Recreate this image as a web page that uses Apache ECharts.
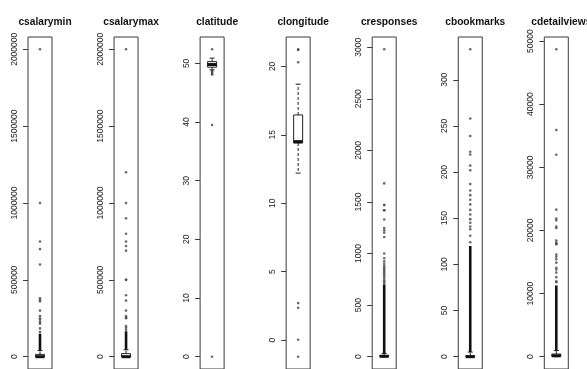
<!DOCTYPE html>
<html>
<head>
<meta charset="utf-8">
<script src="https://cdn.jsdelivr.net/npm/echarts@6/dist/echarts.min.js"></script>
<style>
  html, body { margin: 0; padding: 0; background: #fff; }
  #chart { width: 587px; height: 369px; }
</style>
</head>
<body>
<div id="chart"></div>
<script>
// Variables shown, one boxplot panel each
const variables = ['csalarymin', 'csalarymax', 'clatitude', 'clongitude', 'cresponses', 'cbookmarks', 'cdetailviews'];

// Tick values on each panel's y axis
const tickValues = [
  [0, 500000, 1000000, 1500000, 2000000],
  [0, 500000, 1000000, 1500000, 2000000],
  [0, 10, 20, 30, 40, 50],
  [0, 5, 10, 15, 20],
  [0, 500, 1000, 1500, 2000, 2500, 3000],
  [0, 50, 100, 150, 200, 250, 300],
  [0, 10000, 20000, 30000, 40000, 50000]
];

// Five-number summaries: [lower whisker, Q1, median, Q3, upper whisker]
const boxStats = [
  [0, 0, 0, 15000, 40000],
  [0, 0, 0, 20000, 45000],
  [48.9, 49.35, 49.8, 50.3, 50.9],
  [12.2, 14.4, 14.5, 16.45, 18.7],
  [0, 1, 4, 12, 32],
  [0, 0, 0, 1, 5],
  [0, 60, 150, 420, 980]
];

// Ranges where outliers pile up into a solid column
const denseOutlierSpans = [
  [40000, 150000],
  [45000, 165000],
  null,
  null,
  [32, 700],
  [5, 120],
  [980, 11300]
];

// Individual outliers per variable
const outCsalarymin = [2000000, 1000000, 750000, 700000, 600000, 380000, 370000, 360000, 300000, 265000, 250000, 240000, 226000, 215000, 184000, 160000];
const outCsalarymax = [2000000, 1200000, 1000000, 900000, 800000, 750000, 720000, 690000, 500000, 500000, 400000, 365000, 300000, 265000, 255000, 250000, 200000, 188000, 175000];
const outClatitude = [52.4, 39.5, 0, 48.8, 48.6, 48.4, 48.2, 48.1];
const outClongitude = [21.25, 21.2, 20.3, 2.7, 2.35, 0.02, -1.22];
const outCresponses = [2980, 1680, 1470, 1470, 1420, 1420, 1330, 1248, 1226, 1203, 1160, 1000, 955, 924, 898, 876, 860, 845, 830, 815, 800, 780, 760, 740, 725, 710];
const outCbookmarks = [333, 258, 239, 222, 219, 207, 202, 187, 180, 175, 170, 165, 159, 154, 149, 145, 141, 138, 131, 124];
const outCdetailviews = [48700, 35900, 32000, 23300, 21900, 21600, 20600, 20400, 18400, 18100, 17900, 17800, 16200, 15850, 15450, 14900, 14100, 13800, 13350, 12600, 11950, 11800];

const outlierSets = [outCsalarymin, outCsalarymax, outClatitude, outClongitude, outCresponses, outCbookmarks, outCdetailviews];

// Panel layout
const panelLeft0 = 28;
const panelStep = 86.05;
const panelWidth = 24;
const gridTop = 37;
const gridHeight = 338;
const boxHalf = 4.5;
const capHalf = 2.5;
const ink = '#222';
const fontFamily = 'Liberation Sans, Arial, sans-serif';

const grids = [], xAxes = [], yAxes = [], titles = [], series = [];

variables.forEach((name, i) => {
  const left = panelLeft0 + panelStep * i;
  const stats = boxStats[i];
  const outs = outlierSets[i];
  const all = stats.concat(outs);
  const lo = Math.min(...all), hi = Math.max(...all);
  const pad = 0.04 * (hi - lo);

  grids.push({
    left: left, top: gridTop, width: panelWidth, height: gridHeight,
    show: true, borderColor: '#3a3a3a', borderWidth: 1, backgroundColor: 'transparent'
  });
  xAxes.push({ gridIndex: i, type: 'value', min: 0, max: 1, show: false });
  yAxes.push({
    gridIndex: i, type: 'value', min: lo - pad, max: hi + pad,
    axisLine: { show: false },
    splitLine: { show: false },
    axisTick: { show: true, length: 5, customValues: tickValues[i], lineStyle: { color: '#3a3a3a', width: 1 } },
    axisLabel: {
      customValues: tickValues[i], rotate: 90, margin: 9,
      fontSize: 8.5, color: ink, fontFamily: fontFamily,
      formatter: v => String(v)
    }
  });
  titles.push({
    text: name, left: left + panelWidth / 2, top: 12, textAlign: 'center',
    textStyle: { fontSize: 10.2, fontWeight: 'bold', color: '#111', fontFamily: fontFamily }
  });

  // solid column of overlapping outliers
  const span = denseOutlierSpans[i];
  if (span) {
    series.push({
      type: 'line', xAxisIndex: i, yAxisIndex: i, silent: true,
      showSymbol: false, symbol: 'none',
      lineStyle: { color: '#111', width: 2.6 },
      data: [[0.5, span[0]], [0.5, span[1]]]
    });
  }

  // individual outliers
  series.push({
    type: 'scatter', xAxisIndex: i, yAxisIndex: i, silent: true,
    symbol: 'circle', symbolSize: 2.6,
    itemStyle: { color: '#444' },
    data: outs.map(v => [0.5, v])
  });

  // box, whiskers, caps and median
  series.push({
    type: 'custom', xAxisIndex: i, yAxisIndex: i, silent: true,
    data: [[0.5].concat(stats)],
    renderItem: (params, api) => {
      const x = api.value(0);
      const p = k => api.coord([x, api.value(k)]);
      const lw = p(1), q1 = p(2), md = p(3), q3 = p(4), hw = p(5);
      const cx = lw[0];
      const line = (x1, y1, x2, y2, style) => ({ type: 'line', shape: { x1, y1, x2, y2 }, style });
      const dashed = { stroke: ink, lineWidth: 1, lineDash: [3, 2] };
      const solid = { stroke: ink, lineWidth: 1 };
      return {
        type: 'group',
        children: [
          line(cx, q3[1], cx, hw[1], dashed),
          line(cx, q1[1], cx, lw[1], dashed),
          line(cx - capHalf, hw[1], cx + capHalf, hw[1], solid),
          line(cx - capHalf, lw[1], cx + capHalf, lw[1], solid),
          { type: 'rect', shape: { x: cx - boxHalf, y: q3[1], width: boxHalf * 2, height: q1[1] - q3[1] },
            style: { fill: 'none', stroke: ink, lineWidth: 1 } },
          line(cx - boxHalf, md[1], cx + boxHalf, md[1], { stroke: '#111', lineWidth: 3 })
        ]
      };
    }
  });
});

const chart = echarts.init(document.getElementById('chart'), null, { renderer: 'canvas' });
chart.setOption({
  animation: false,
  backgroundColor: '#fff',
  title: titles,
  grid: grids,
  xAxis: xAxes,
  yAxis: yAxes,
  series: series
});
</script>
</body>
</html>
